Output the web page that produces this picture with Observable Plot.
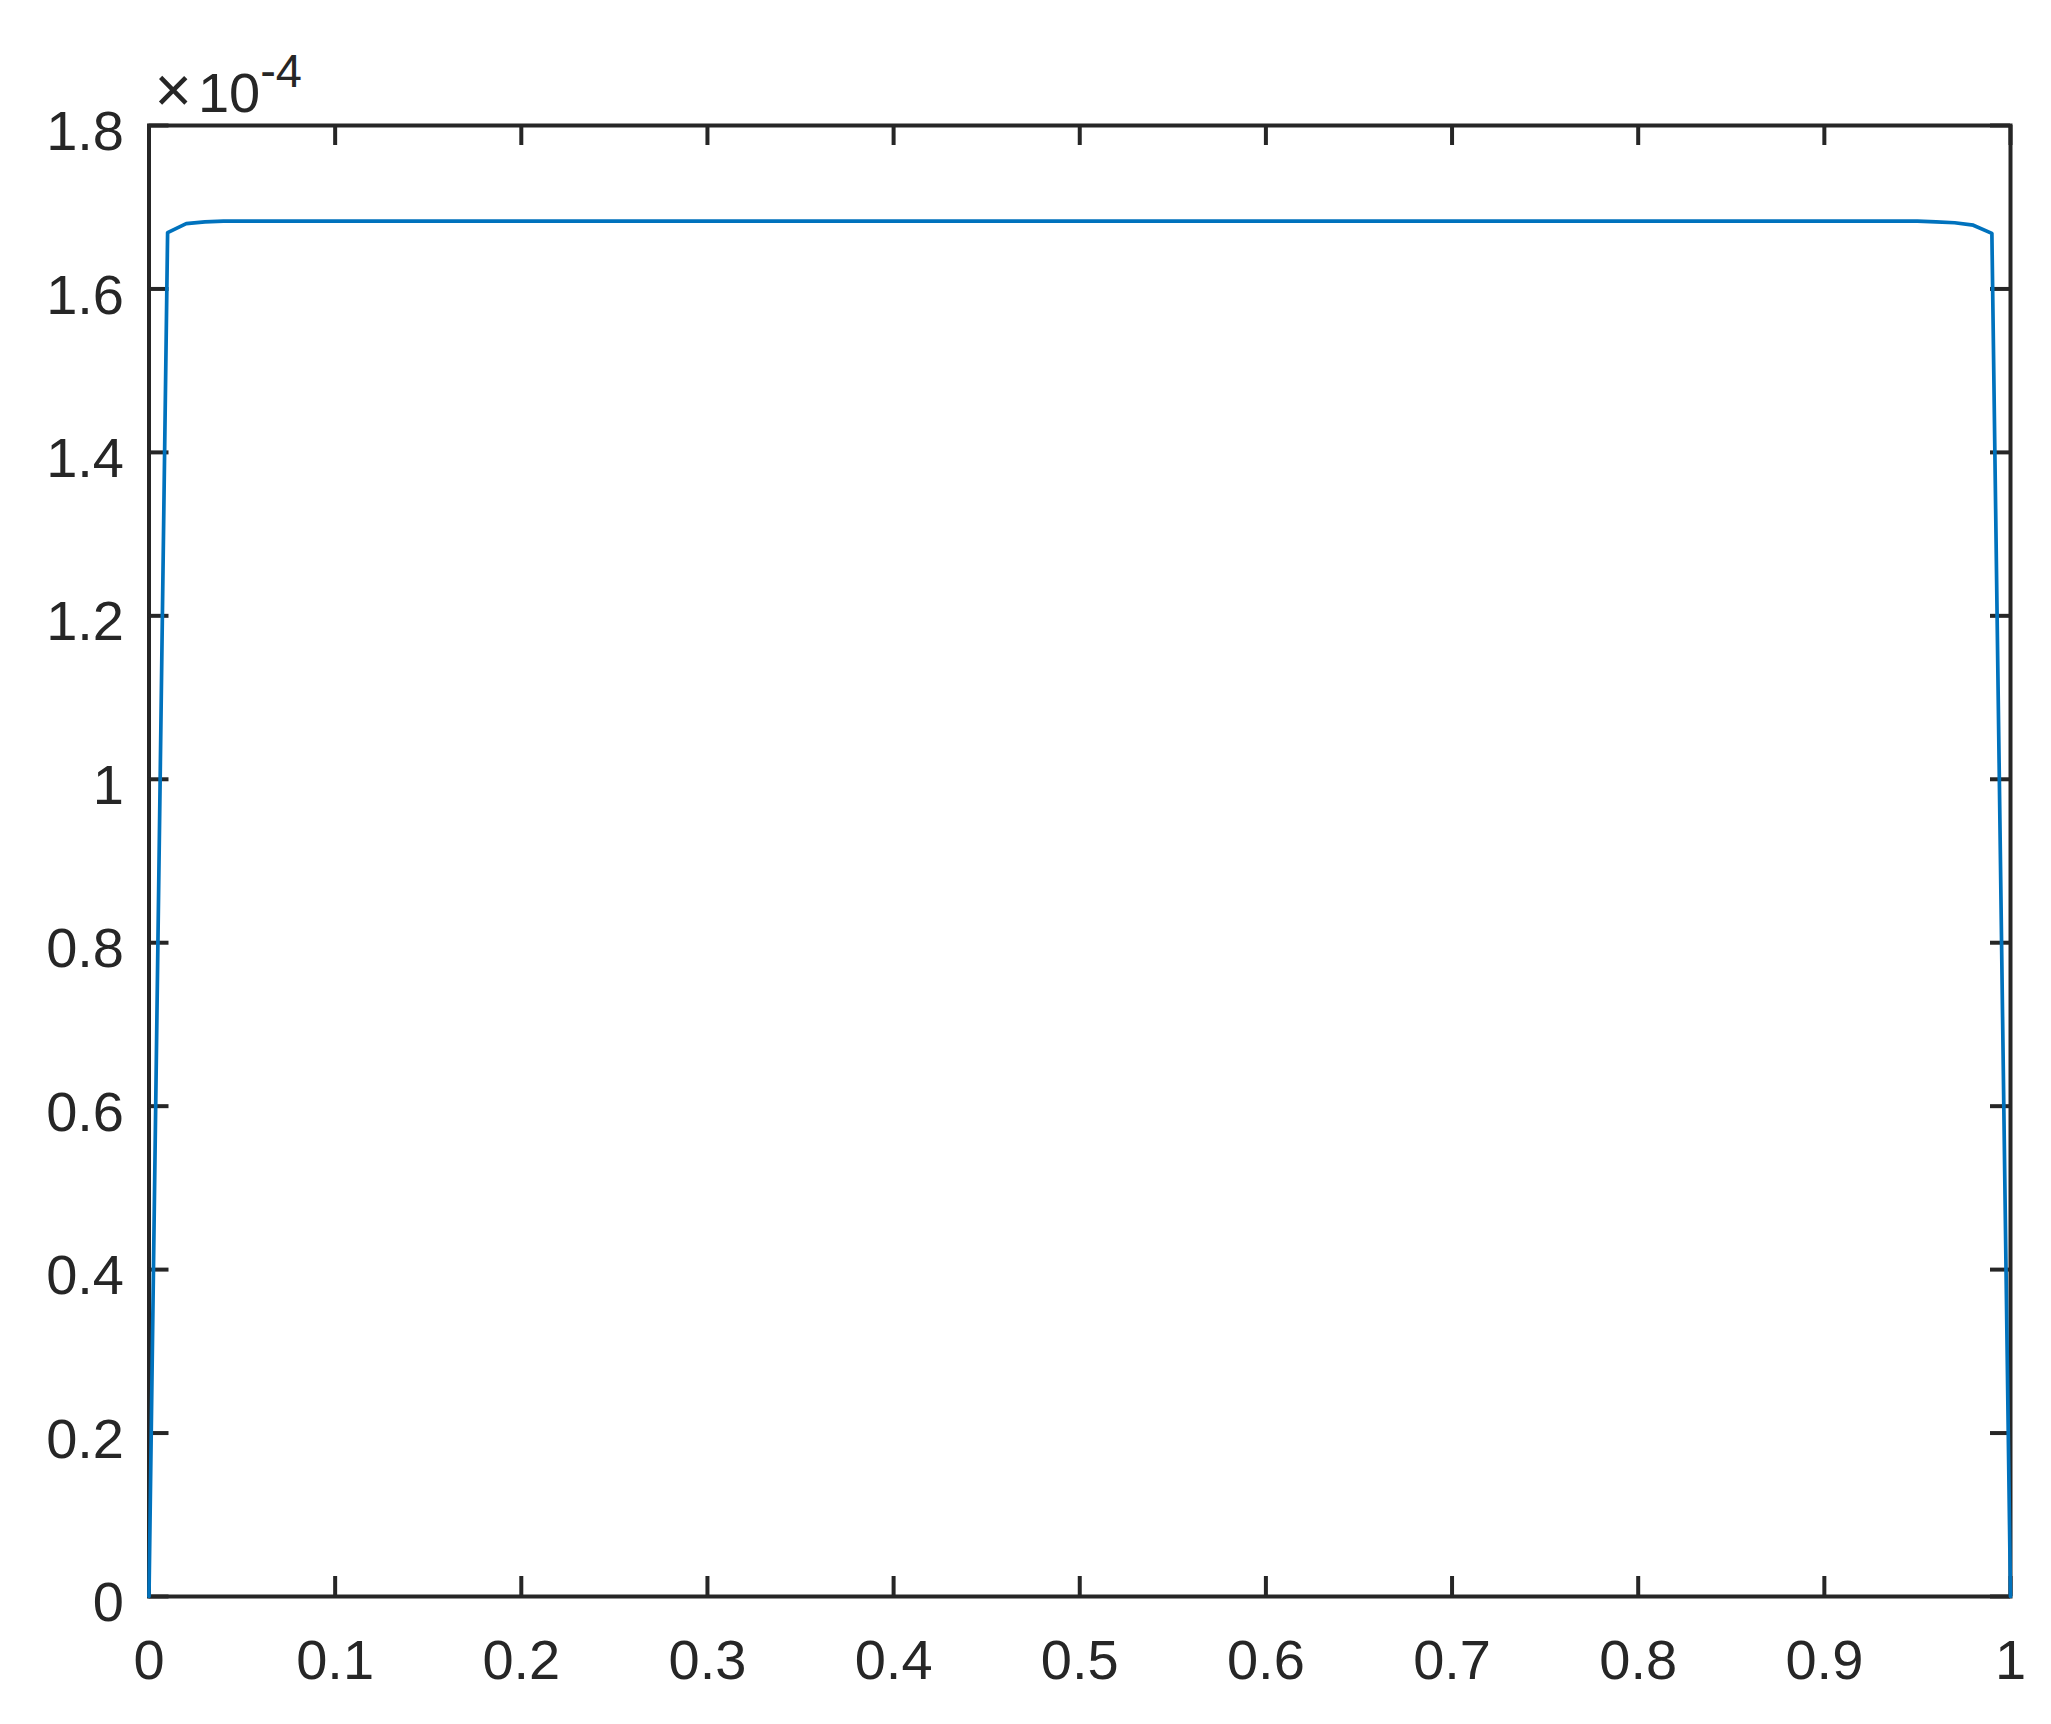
<!DOCTYPE html>
<html><head><meta charset="utf-8">
<script src="https://cdn.jsdelivr.net/npm/d3@7"></script>
<script src="https://cdn.jsdelivr.net/npm/@observablehq/plot@0.6"></script>
<style>body{margin:0;background:#fff} svg{display:block}</style>
</head><body><div id="chart"></div>
<script>
// values in units of 10^-4
const xValues = [0, 0.01, 0.02, 0.03, 0.04, 0.05, 0.95, 0.96, 0.97, 0.98, 0.99, 1];
const yValues = [0, 1.669, 1.680, 1.682, 1.683, 1.683, 1.683, 1.682, 1.681, 1.678, 1.668, 0];
const yExponent = -4;
const xTicks = [0, 0.1, 0.2, 0.3, 0.4, 0.5, 0.6, 0.7, 0.8, 0.9, 1];
const yTicks = [0, 0.2, 0.4, 0.6, 0.8, 1, 1.2, 1.4, 1.6, 1.8];

const W = 2051, H = 1724, mL = 148.5, mR = 41, mT = 125, mB = 128;
const pw = W - mL - mR, ph = H - mT - mB, tickLen = 20;
const ink = "#262626";
const font = "'Liberation Sans', Arial, Helvetica, sans-serif";
const data = xValues.map((x, i) => ({x, y: yValues[i]}));

const chart = Plot.plot({
  width: W, height: H,
  marginLeft: mL, marginRight: mR, marginTop: mT, marginBottom: mB,
  style: {fontFamily: font, fontSize: "55px", color: ink, background: "#fff"},
  x: {domain: [0, 1]},
  y: {domain: [0, 1.8]},
  marks: [
    Plot.axisX(xTicks, {tickSize: 0, tickPadding: 43, fontSize: 56, fill: ink, label: null, tickFormat: d => String(d)}),
    Plot.axisY(yTicks, {tickSize: 0, tickPadding: 25, dy: 6.7, fontSize: 56, fill: ink, label: null, tickFormat: d => String(d)}),
    Plot.frame({stroke: ink, strokeWidth: 4}),
    Plot.ruleX(xTicks, {x: d => d, insetTop: ph - tickLen, stroke: ink, strokeWidth: 4}),
    Plot.ruleX(xTicks, {x: d => d, insetBottom: ph - tickLen, stroke: ink, strokeWidth: 4}),
    Plot.ruleY(yTicks, {y: d => d, insetRight: pw - tickLen, stroke: ink, strokeWidth: 4}),
    Plot.ruleY(yTicks, {y: d => d, insetLeft: pw - tickLen, stroke: ink, strokeWidth: 4}),
    Plot.line(data, {x: "x", y: "y", stroke: "#0072BD", strokeWidth: 3.7})
  ]
});

const svg = d3.select(chart);
const t = svg.append("text")
  .attr("x", mL + 6)
  .attr("y", mT - 13.3)
  .attr("fill", ink)
  .attr("text-anchor", "start")
  .style("font-family", font)
  .style("font-size", "56px");
t.append("tspan").style("font-size", "64px").text("\u00D7");
t.append("tspan").attr("dx", 6).text("10");
t.append("tspan").attr("dy", -25).style("font-size", "47px").text(String(yExponent));

document.getElementById("chart").appendChild(chart);
</script>
</body></html>
